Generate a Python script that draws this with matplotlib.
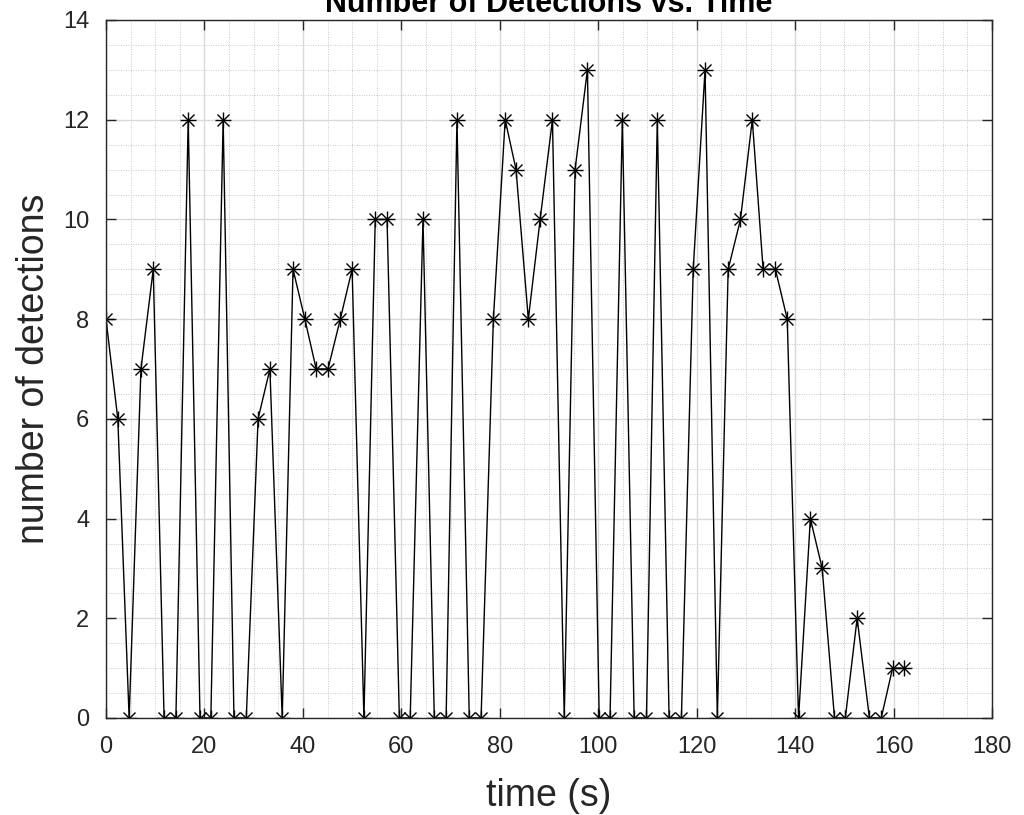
import matplotlib
matplotlib.use("Agg")
import matplotlib.pyplot as plt
from matplotlib.ticker import MultipleLocator

# detections sampled roughly every 2.4 s
time_s = [0.0, 2.4, 4.7, 7.1, 9.6, 11.8, 14.2, 16.7, 19.1, 21.3,
          23.8, 26.0, 28.5, 30.9, 33.3, 35.8, 38.0, 40.4, 42.7, 45.1,
          47.6, 50.0, 52.4, 54.7, 57.1, 59.6, 61.8, 64.4, 66.7, 69.1,
          71.3, 73.8, 76.2, 78.7, 81.1, 83.3, 85.8, 88.2, 90.7, 93.1,
          95.3, 97.8, 100.2, 102.4, 104.9, 107.3, 109.8, 112.0, 114.4, 116.9,
          119.3, 121.7, 124.2, 126.4, 128.9, 131.3, 133.5, 136.0, 138.4, 140.7,
          143.1, 145.5, 148.0, 150.2, 152.6, 155.1, 157.5, 159.8, 162.2]
detections = [8, 6, 0, 7, 9, 0, 0, 12, 0, 0,
              12, 0, 0, 6, 7, 0, 9, 8, 7, 7,
              8, 9, 0, 10, 10, 0, 0, 10, 0, 0,
              12, 0, 0, 8, 12, 11, 8, 10, 12, 0,
              11, 13, 0, 0, 12, 0, 0, 12, 0, 0,
              9, 13, 0, 9, 10, 12, 9, 9, 8, 0,
              4, 3, 0, 0, 2, 0, 0, 1, 1]

plt.rcParams['font.family'] = ['Liberation Sans', 'DejaVu Sans']

fig = plt.figure(figsize=(10.24, 8.15), dpi=100)
ax = fig.add_axes([106/1024, 1 - 718/815, (992-106)/1024, (718-20)/815])

ax.plot(time_s, detections, color='black', linewidth=1.0)
# matlab style '*' = plus + cross
ax.plot(time_s, detections, linestyle='none', marker='+', markersize=12,
        markeredgecolor='black', markeredgewidth=1.0)
ax.plot(time_s, detections, linestyle='none', marker='x', markersize=9,
        markeredgecolor='black', markeredgewidth=1.0)

ax.set_xlim(0, 180)
ax.set_ylim(0, 14)
ax.xaxis.set_major_locator(MultipleLocator(20))
ax.xaxis.set_minor_locator(MultipleLocator(5))
ax.yaxis.set_major_locator(MultipleLocator(2))
ax.yaxis.set_minor_locator(MultipleLocator(0.5))

ax.grid(which='major', color='#d9d9d9', linewidth=1.0, linestyle='-')
ax.grid(which='minor', color='#c8c8c8', linewidth=0.7, linestyle=(0, (1, 1.5)))
ax.set_axisbelow(True)

ax.tick_params(which='both', direction='in', top=True, right=True,
               labelsize=17, colors='#262626')
ax.tick_params(which='major', length=7, width=1)
ax.tick_params(axis='x', which='major', pad=13)
ax.tick_params(axis='y', which='major', pad=12)
ax.tick_params(which='minor', length=0)
for s in ax.spines.values():
    s.set_color('#262626')
    s.set_linewidth(1.0)

ax.set_xlabel('time (s)', fontsize=27, color='#262626', labelpad=14)
ax.set_ylabel('number of detections', fontsize=27, color='#262626', labelpad=8)
ax.set_title('Number of Detections vs. Time', fontsize=22, fontweight='bold', pad=6)

fig.savefig('out.png', dpi=100)
